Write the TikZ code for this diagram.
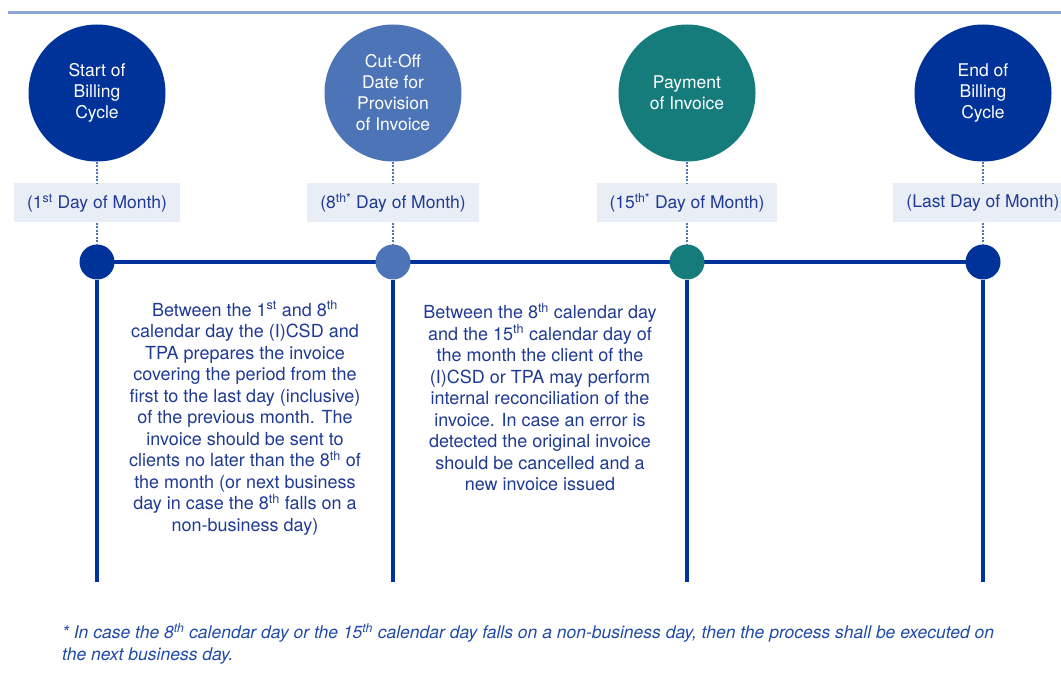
\documentclass[tikz,border=0pt]{standalone}
\usepackage{fontspec}
\setmainfont{TeX Gyre Heros}
\usetikzlibrary{positioning}
\definecolor{navy}{HTML}{003399}
\definecolor{midblue}{HTML}{4D74B7}
\definecolor{tealc}{HTML}{167B7B}
\definecolor{rulec}{HTML}{8EA6D6}
\definecolor{labelbg}{HTML}{E9EDF5}
\definecolor{txtblue}{HTML}{1F3A93}
\definecolor{notec}{HTML}{1F4AA8}

\begin{document}
\begin{tikzpicture}[x=1pt,y=-1pt,
 milestone/.style={circle,minimum size=137pt,inner sep=0pt,text=white,align=center,font=\fontsize{17.5}{21}\selectfont},
 daybox/.style={fill=labelbg,minimum height=39pt,inner xsep=13pt,text=txtblue,font=\fontsize{17.5}{19}\selectfont},
 knot/.style={circle,minimum size=35pt,inner sep=0pt},
 link/.style={midblue,line width=2pt,dash pattern=on 2pt off 1.5pt},
 track/.style={navy,line width=4pt},
 note/.style={text=txtblue,align=center,font=\fontsize{18}{21.5}\selectfont}]
\clip (0,0) rectangle (1061,687);
\useasboundingbox (0,0) rectangle (1061,687);
\draw[rulec,line width=3pt] (8,13) -- (1061,13);

% milestones
\node[milestone,fill=navy] (c1) at (97,93) {Start of\\Billing\\Cycle};
\node[milestone,fill=midblue] (c2) at (393,93) {Cut-Off\\Date for\\Provision\\of Invoice};
\node[milestone,fill=tealc] (c3) at (687,93) {Payment\\of Invoice};
\node[milestone,fill=navy] (c4) at (983,93) {End of\\Billing\\Cycle};

% day labels
\node[daybox] (l1) at (97,203) {(1\textsuperscript{st} Day of Month)};
\node[daybox] (l2) at (393,203) {(8\textsuperscript{th*} Day of Month)};
\node[daybox] (l3) at (687,203) {(15\textsuperscript{th*} Day of Month)};
\node[daybox] (l4) at (983,203) {(Last Day of Month)};

% time line
\draw[track] (97,262) -- (983,262);
\foreach \i/\x/\c in {1/97/navy,2/393/midblue,3/687/tealc,4/983/navy}{
 \node[knot,fill=\c] (d\i) at (\x,262) {};
 \coordinate (e\i) at (\x,582);
 \draw[link] (c\i) -- (l\i);
 \draw[link] (l\i) -- (d\i);
 \draw[track] (d\i) -- (e\i);
}

% descriptions
\node[note] (t1) at (245,418) {Between the 1\textsuperscript{st} and 8\textsuperscript{th}\\
 calendar day the (I)CSD and\\ TPA prepares the invoice\\
 covering the period from the\\ first to the last day (inclusive)\\
 of the previous month. The\\ invoice should be sent to\\
 clients no later than the 8\textsuperscript{th} of\\ the month (or next business\\
 day in case the 8\textsuperscript{th} falls on a\\ non-business day)};
\node[note] (t2) at (540,397) {Between the 8\textsuperscript{th} calendar day\\
 and the 15\textsuperscript{th} calendar day of\\ the month the client of the\\
 (I)CSD or TPA may perform\\ internal reconciliation of the\\
 invoice. In case an error is\\ detected the original invoice\\
 should be cancelled and a\\ new invoice issued};

% footnote
\node[anchor=north west,align=left,text=notec,inner sep=0pt,
 font=\fontsize{17.5}{22}\selectfont\itshape] (fn) at (62,623)
 {* In case the 8\textsuperscript{th} calendar day or the 15\textsuperscript{th} calendar day falls on a non-business day, then the process shall be executed on\\
 the next business day.};
\end{tikzpicture}
\end{document}
